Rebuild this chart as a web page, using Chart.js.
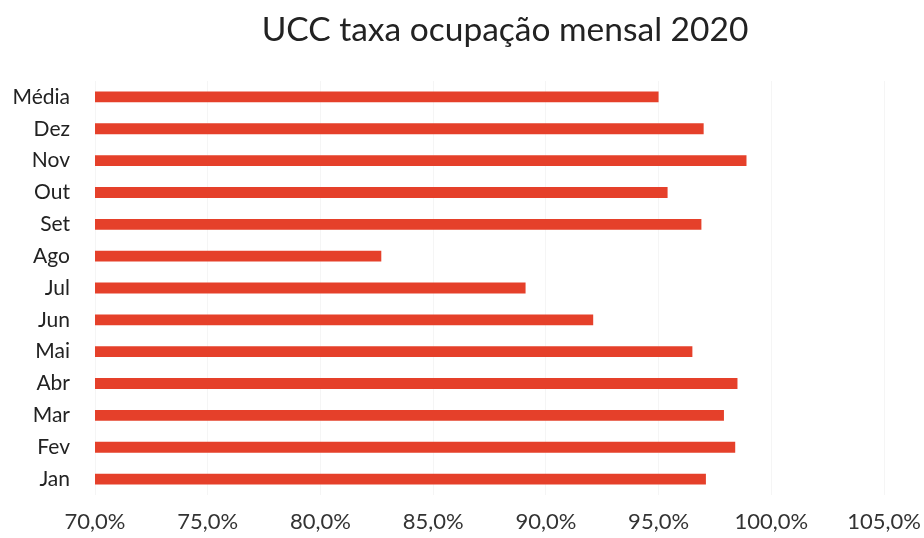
<!DOCTYPE html>
<html lang="pt">
<head>
    <meta charset="UTF-8">
    <title>UCC taxa ocupação mensal 2020</title>
    <script src="https://cdn.jsdelivr.net/npm/chart.js"></script>
    <style>
        body {
            margin: 0;
            padding: 0;
            background: #fff;
        }
        .chart-box {
            position: relative;
            width: 924px;
            height: 538px;
        }
        .chart-title {
            position: absolute;
            top: 9px;
            left: 505px;
            transform: translateX(-50%);
            white-space: nowrap;
            font-family: Lato, 'Open Sans', sans-serif;
            font-size: 33.5px;
            line-height: 38px;
            color: #222;
        }
    </style>
</head>
<body>
    <div class="chart-box">
        <div class="chart-title">UCC taxa ocupação mensal 2020</div>
        <canvas id="ocupacaoChart"></canvas>
    </div>
    <script>
        // dados (de cima para baixo, como no gráfico)
        const meses = ['Média', 'Dez', 'Nov', 'Out', 'Set', 'Ago', 'Jul', 'Jun', 'Mai', 'Abr', 'Mar', 'Fev', 'Jan'];
        const taxaOcupacao = [95.0, 97.0, 98.9, 95.4, 96.9, 82.7, 89.1, 92.1, 96.5, 98.5, 97.9, 98.4, 97.1];
        const eixoX = { min: 70, max: 105, passo: 5 };

        const fonte = "Lato, 'Open Sans', sans-serif";

        const ctx = document.getElementById('ocupacaoChart').getContext('2d');
        new Chart(ctx, {
            type: 'bar',
            data: {
                labels: meses,
                datasets: [{
                    data: taxaOcupacao,
                    backgroundColor: '#E5402A',
                    borderWidth: 0,
                    categoryPercentage: 1,
                    barPercentage: 0.34
                }]
            },
            options: {
                indexAxis: 'y',
                responsive: true,
                maintainAspectRatio: false,
                animation: false,
                layout: {
                    padding: { left: 8, right: 40, top: 81, bottom: 0 }
                },
                plugins: {
                    legend: { display: false },
                    tooltip: { enabled: false },
                    title: { display: false }
                },
                scales: {
                    x: {
                        min: eixoX.min,
                        max: eixoX.max,
                        border: { display: false },
                        grid: { color: '#f5f5f5', drawTicks: false },
                        ticks: {
                            stepSize: eixoX.passo,
                            color: '#333',
                            padding: 14,
                            maxRotation: 0,
                            font: { family: fonte, size: 22 },
                            callback: (v) => v.toFixed(1).replace('.', ',') + '%'
                        },
                        afterFit: (scale) => {
                            scale.height = 43;
                            scale.paddingLeft = 0;
                            scale.paddingRight = 0;
                        }
                    },
                    y: {
                        border: { display: false },
                        grid: { display: false },
                        ticks: {
                            color: '#222',
                            padding: 17,
                            font: { family: fonte, size: 21 }
                        },
                        afterFit: (scale) => {
                            scale.width = 87;
                            scale.paddingTop = 0;
                            scale.paddingBottom = 0;
                        }
                    }
                }
            }
        });
    </script>
</body>
</html>
